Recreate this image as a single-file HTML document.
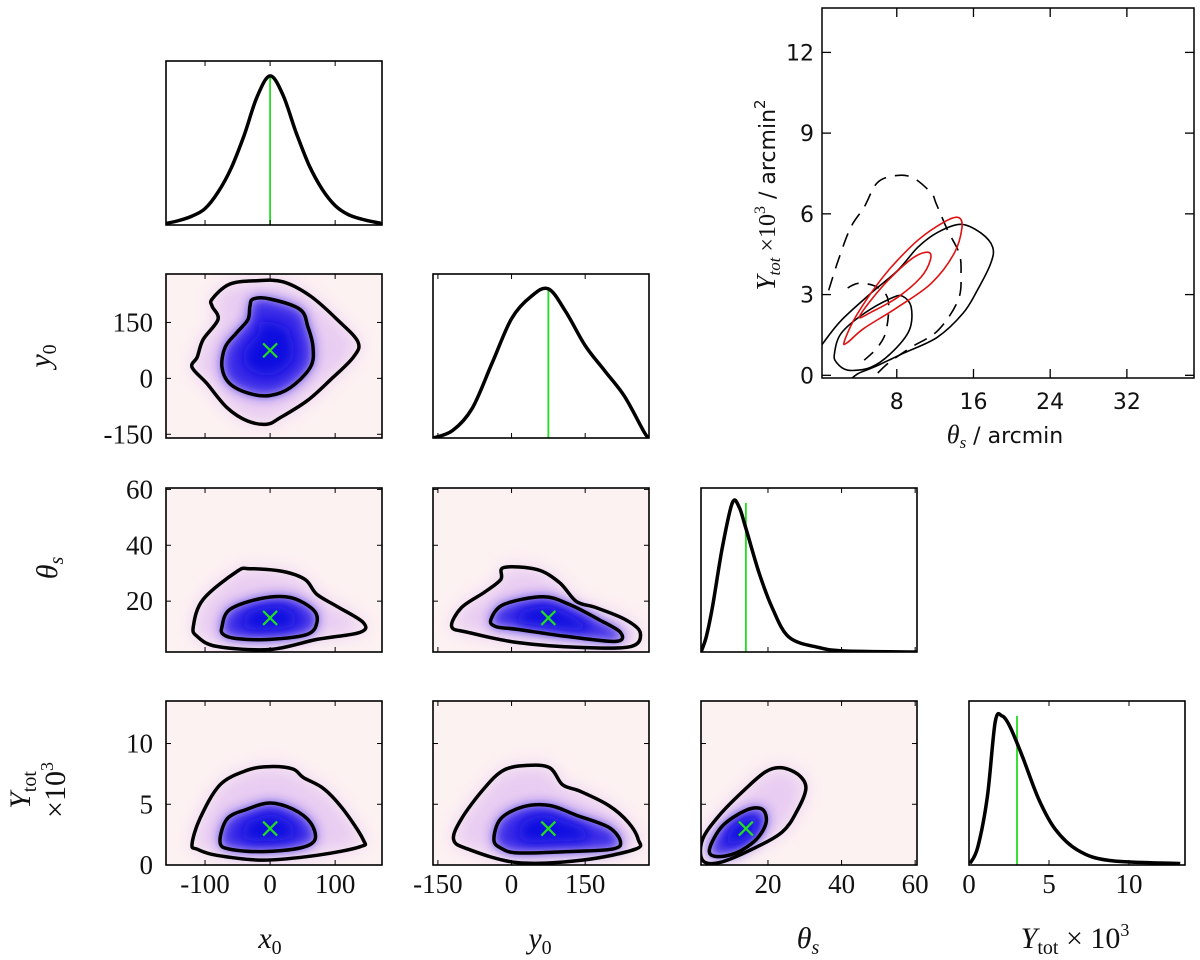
<!DOCTYPE html>
<html><head><meta charset="utf-8"><style>
html,body{margin:0;padding:0;background:#fff;}
svg{display:block;}
.tk{font-family:"Liberation Serif",serif;font-size:27px;fill:#111;}
.lab{font-family:"Liberation Serif",serif;font-size:30px;fill:#111;font-style:italic;}
.in{font-family:"DejaVu Sans",sans-serif;font-size:22px;fill:#111;}
</style></head><body>
<svg id="fig" width="1200" height="960" viewBox="0 0 1200 960" xmlns="http://www.w3.org/2000/svg">
<defs>
<filter id="blur8" x="-30%" y="-30%" width="160%" height="160%"><feGaussianBlur stdDeviation="9"/></filter>
<filter id="blur5" x="-30%" y="-30%" width="160%" height="160%"><feGaussianBlur stdDeviation="6"/></filter>
</defs>
</svg>
<script>
// ===== data =====
const truthX0 = 0, truthY0 = 75, truthTheta = 14, truthY = 3;
// 1D marginals
const x0Grid = [-160,-140,-120,-100,-80,-60,-40,-20,0,20,40,60,80,100,120,140,160,172];
const x0Pdf  = [0.01,0.03,0.06,0.11,0.22,0.38,0.6,0.86,1,0.87,0.62,0.4,0.24,0.13,0.07,0.04,0.02,0.01];
const y0Grid = [-160,-120,-80,-40,0,40,75,110,150,190,230,270,280];
const y0Pdf  = [0.0,0.05,0.2,0.5,0.8,0.95,1.0,0.85,0.62,0.45,0.28,0.04,0.0];
const thGrid = [1.8,3.2,4.9,7.6,10.3,12.2,14.1,17.6,21.1,25.7,33.8,41,60.3];
const thPdf  = [0,0.1,0.3,0.7,1.0,0.97,0.82,0.53,0.3,0.1,0.03,0.007,0];
const ytGrid = [0.06,0.55,1.15,1.64,2.06,2.55,3.33,4.36,5.39,6.79,8.79,13.2];
const ytPdf  = [0.01,0.12,0.46,0.96,1.0,0.93,0.73,0.44,0.24,0.1,0.03,0.01];
// 2D contours [x,y] in data units
const cXY_out = [[-89,213],[-62,253],[-20,262],[20,259],[62,221],[103,158],[135,98],[128,57],[92,-5],[57,-60],[15,-106],[-5,-123],[-35,-114],[-66,-79],[-97,-14],[-120,30],[-112,57],[-103,104],[-80,158],[-89,193]];
const cXY_in  = [[-26,213],[0,213],[46,185],[58,139],[66,84],[62,30],[31,-25],[0,-46],[-31,-41],[-62,-14],[-74,30],[-69,84],[-51,123],[-34,158],[-31,193]];
const cXT_out = [[-118,10.9],[-103,20.6],[-51,30.6],[-31,31.6],[20,30.6],[54,27.7],[72,22.4],[103,18.1],[143,12.4],[138,8.8],[72,6.3],[0,2.7],[-82,3.8],[-112,7.4]];
const cXT_in  = [[-74,10.9],[-62,17],[-15,20.9],[31,21.3],[66,17],[72,12.4],[57,8.1],[0,6.3],[-51,6.6],[-72,8.1]];
const cYT_out = [[-122,10.9],[-102,17.7],[-56,23.1],[-22,27.7],[-16,32],[52,31.3],[98,26.6],[132,19.9],[172,17.7],[232,13.4],[262,8.8],[244,3.8],[144,3.4],[12,5.2],[-88,8.8]];
const cYT_in  = [[-42,13.4],[-16,18.8],[64,21.6],[118,18.8],[178,13.4],[222,8.8],[212,5.6],[112,7.4],[12,9.9],[-32,10.9]];
const cXY2_out = [[-120,1.7],[-108,3.8],[-77,6.6],[-35,7.8],[0,8.1],[35,7.9],[51,7.2],[82,6.3],[112,4.6],[143,2.1],[138,1.5],[72,0.8],[-11,0.4],[-82,0.8],[-112,1.3]];
const cXY2_in  = [[-77,1.9],[-66,3.8],[-35,4.6],[0,5.1],[35,4.6],[62,3.5],[69,2.1],[46,1.4],[-11,1.1],[-62,1.3]];
const cYY_out = [[-118,2.1],[-102,3.8],[-56,6.3],[-16,7.8],[32,8.2],[78,8.0],[104,6.6],[138,6.1],[198,4.9],[238,3.5],[258,2.1],[252,1.3],[144,0.4],[12,0.2],[-88,1.3]];
const cYY_in  = [[-36,2.1],[-22,3.8],[24,4.8],[78,4.9],[132,4.1],[198,3.1],[222,1.9],[204,1.3],[112,1.1],[12,1.0],[-22,1.4]];
const cTY_out = [[2.2,2.1],[6.8,4.1],[14,6.3],[19.5,7.7],[23.8,8.0],[28.4,7.4],[30.3,6.3],[27.8,4.4],[23.8,2.7],[15.7,1.3],[6.8,0.2],[2.2,0.4]];
const cTY_in  = [[4.1,1.3],[7.6,3.2],[14,4.5],[18.4,4.6],[19.5,3.5],[16.8,2.1],[11.4,1.0],[5.9,0.7]];
// inset contours (theta, Ytot)
const insRedOut = [[2.5,1.23],[3.5,2.04],[5.3,3.05],[7.4,4.01],[10.2,5.02],[12.9,5.69],[14.4,5.87],[14.8,5.5],[14,4.54],[11.6,3.42],[8.1,2.53],[4.6,1.75],[2.9,1.23]];
const insRedIn  = [[4.1,2.16],[5.3,2.79],[7.4,3.64],[9.8,4.39],[11.3,4.57],[11.5,4.28],[10.5,3.64],[8.1,2.9],[5.3,2.34]];
const insBlkOut = [[-1,0.5],[0.3,1.19],[2.2,2.04],[5.3,3.05],[8.1,3.9],[10.2,4.76],[12.3,5.32],[14.7,5.61],[16.8,5.28],[18,4.76],[17.8,4.16],[16.4,3.16],[14.9,2.3],[12.2,1.41],[8.7,0.82],[5.6,0.3],[4,0.07],[3,-0.2]];
const insBlkIn  = [[1.5,0.82],[2.2,1.56],[4.6,2.3],[7.4,2.86],[8.6,2.94],[9.5,2.53],[9.3,1.67],[7.4,0.82],[5.3,0.3],[2.9,0.19],[1.7,0.48]];
const insDashOut = [[0.9,3.16],[1.9,4.28],[3.2,5.5],[4.6,6.25],[6,7.17],[8.1,7.43],[9.8,7.32],[11.6,6.77],[12.1,6.39],[13.3,5.39],[14.5,4.54],[14.7,3.79],[14.4,2.79],[12.3,1.67],[9.5,1.04],[7.1,0.45],[5.6,-0.07]];
const insDashIn = [[4.6,0.56],[6,1.04],[6.9,1.67],[7.1,2.79],[6,3.27],[4,3.42],[2.5,3.16]];
// ticks
const x0Ticks = [-100,0,100];
const y0Ticks = [-150,0,150];
const thTicks = [20,40,60];
const ytTicks = [0,5,10];
const insXTicks = [8,16,24,32];
const insYTicks = [0,3,6,9,12];

// ===== layout =====
const NS="http://www.w3.org/2000/svg";
const svg=document.getElementById('fig');
const colX=[166,433,701,969], rowY=[61,274,488,701], PW=216, PH=164;
const R={x0:[-160,172], y0:[-160,280], th:[1.8,60.5], yt:[0,13.5], pdf:[0,1.1]};
function mk(tag,attrs,parent){const e=document.createElementNS(NS,tag);for(const k in attrs)e.setAttribute(k,attrs[k]);(parent||svg).appendChild(e);return e;}
function sx(c,r){return v=>colX[c]+(v-r[0])/(r[1]-r[0])*PW;}
function sy(rw,r){return v=>rowY[rw]+PH-(v-r[0])/(r[1]-r[0])*PH;}
function smooth(pts,closed){
  const n=pts.length;let d='M'+pts[0][0].toFixed(1)+','+pts[0][1].toFixed(1);
  const N=closed?n:n-1;
  for(let i=0;i<N;i++){
    const p0=pts[(i-1+n)%n],p1=pts[i],p2=pts[(i+1)%n],p3=pts[(i+2)%n];
    const a=closed||i>0?p0:p1, b=closed||i+2<n?p3:p2;
    const c1=[p1[0]+(p2[0]-a[0])/6,p1[1]+(p2[1]-a[1])/6];
    const c2=[p2[0]-(b[0]-p1[0])/6,p2[1]-(b[1]-p1[1])/6];
    d+=`C${c1[0].toFixed(1)},${c1[1].toFixed(1)} ${c2[0].toFixed(1)},${c2[1].toFixed(1)} ${p2[0].toFixed(1)},${p2[1].toFixed(1)}`;
  }
  return d+(closed?'Z':'');
}
let clipId=0;
function frame(c,rw,bg){
  const g=mk('g',{});
  
  
  const id='clip'+(clipId++);
  const cp=mk('clipPath',{id:id},svg.querySelector('defs'));
  mk('rect',{x:colX[c],y:rowY[rw],width:PW,height:PH},cp);
  if(bg) mk('rect',{x:colX[c],y:rowY[rw],width:PW,height:PH,fill:'#fdf2f2'},g);
  const inner=mk('g',{'clip-path':'url(#'+id+')'},g);
  return {g,inner};
}
function border(g,c,rw){
  const b=mk('rect',{x:colX[c],y:rowY[rw],width:PW,height:PH,fill:'none',stroke:'#000','stroke-width':1.6},g);
  
  
}
function xticks(g,c,rw,r,ticks){const X=sx(c,r);ticks.forEach(t=>{const x=X(t);mk('line',{x1:x,x2:x,y1:rowY[rw]+PH,y2:rowY[rw]+PH-5,stroke:'#000','stroke-width':1},g);mk('line',{x1:x,x2:x,y1:rowY[rw],y2:rowY[rw]+5,stroke:'#000','stroke-width':1},g);});}
function yticks(g,c,rw,r,ticks){const Y=sy(rw,r);ticks.forEach(t=>{const y=Y(t);mk('line',{x1:colX[c],x2:colX[c]+5,y1:y,y2:y,stroke:'#000','stroke-width':1},g);mk('line',{x1:colX[c]+PW,x2:colX[c]+PW-5,y1:y,y2:y,stroke:'#000','stroke-width':1},g);});}

function marginal(c,rw,r,grid,pdf,truth,ticks){
  const f=frame(c,rw,false);const X=sx(c,r),Y=sy(rw,R.pdf);
  const pts=grid.map((v,i)=>[X(v),Y(pdf[i])]);
  const tv=X(truth);
  const l=mk('line',{x1:tv,x2:tv,y1:Y(Math.max(...pdf)),y2:rowY[rw]+PH,stroke:'#22dd22','stroke-width':1.8},f.inner);
  
  
  const p=mk('path',{d:smooth(pts,false),fill:'none',stroke:'#000','stroke-width':3.5,'stroke-linejoin':'round'},f.inner);
  
  
  xticks(f.g,c,rw,r,ticks);
  border(f.g,c,rw);
}
function joint(c,rw,rx,ry,outer,inner,tx,ty,xt,yt){
  const f=frame(c,rw,true);const X=sx(c,rx),Y=sy(rw,ry);
  const po=outer.map(p=>[X(p[0]),Y(p[1])]), pi=inner.map(p=>[X(p[0]),Y(p[1])]);
  mk('path',{d:smooth(po,true),fill:'#e6c8f2',filter:'url(#blur8)',opacity:0.9},f.inner);
  mk('path',{d:smooth(pi,true),fill:'#3a2ae8',filter:'url(#blur5)'},f.inner);
  const cx=X(tx),cy=Y(ty);
  const sc=pi.map(p=>[cx+(p[0]-cx)*0.55,cy+(p[1]-cy)*0.55]);
  mk('path',{d:smooth(sc,true),fill:'#1010e0',filter:'url(#blur5)'},f.inner);
  const a=mk('path',{d:smooth(po,true),fill:'none',stroke:'#000','stroke-width':3.5},f.inner);
  
  
  const b=mk('path',{d:smooth(pi,true),fill:'none',stroke:'#000','stroke-width':3.5},f.inner);
  
  
  const m=mk('path',{d:`M${cx-7},${cy-7}L${cx+7},${cy+7}M${cx-7},${cy+7}L${cx+7},${cy-7}`,stroke:'#22dd22','stroke-width':2.2},f.inner);
  
  
  xticks(f.g,c,rw,rx,xt);yticks(f.g,c,rw,ry,yt);
  border(f.g,c,rw);
}
marginal(0,0,R.x0,x0Grid,x0Pdf,truthX0,x0Ticks);
marginal(1,1,R.y0,y0Grid,y0Pdf,truthY0,y0Ticks);
marginal(2,2,R.th,thGrid,thPdf,truthTheta,thTicks);
marginal(3,3,R.yt,ytGrid,ytPdf,truthY,ytTicks);
joint(0,1,R.x0,R.y0,cXY_out,cXY_in,truthX0,truthY0,x0Ticks,y0Ticks);
joint(0,2,R.x0,R.th,cXT_out,cXT_in,truthX0,truthTheta,x0Ticks,thTicks);
joint(1,2,R.y0,R.th,cYT_out,cYT_in,truthY0,truthTheta,y0Ticks,thTicks);
joint(0,3,R.x0,R.yt,cXY2_out,cXY2_in,truthX0,truthY,x0Ticks,ytTicks);
joint(1,3,R.y0,R.yt,cYY_out,cYY_in,truthY0,truthY,y0Ticks,ytTicks);
joint(2,3,R.th,R.yt,cTY_out,cTY_in,truthTheta,truthY,thTicks,ytTicks);

// tick labels
function text(x,y,s,cls,anchor,name){const t=mk('text',{x:x,y:y,class:cls,'text-anchor':anchor||'middle'});t.textContent=s;return t;}
[[0,R.x0,x0Ticks],[1,R.y0,y0Ticks],[2,R.th,thTicks],[3,R.yt,ytTicks]].forEach(([c,r,tk])=>{const X=sx(c,r);tk.forEach(t=>text(X(t),893,String(t),'tk','middle','x-tick-label'));});
[[1,R.y0,y0Ticks],[2,R.th,thTicks],[3,R.yt,ytTicks]].forEach(([rw,r,tk])=>{const Y=sy(rw,r);tk.forEach(t=>text(153,Y(t)+9,String(t),'tk','end','y-tick-label'));});

// axis labels
const xl=[[270,'x','0'],[540,'y','0'],[808,'θ','s']];
xl.forEach(([x,a,s])=>{const t=text(x,948,'','lab','middle','x-axis-label');const t1=mk('tspan',{},t);t1.textContent=a;const t2=mk('tspan',{dy:6,'font-size':20,'font-style':'normal'},t);if(a==='θ')t2.setAttribute('font-style','italic');t2.textContent=s;});
{const t=text(1075,948,'','lab','middle','x-axis-label');const a=mk('tspan',{},t);a.textContent='Y';const b=mk('tspan',{dy:6,'font-size':20,'font-style':'normal'},t);b.textContent='tot';const c=mk('tspan',{dy:-6,'font-style':'normal'},t);c.textContent=' × 10';const d=mk('tspan',{dy:-12,'font-size':18,'font-style':'normal'},t);d.textContent='3';}
function ylab(x,y,parts,name){const t=mk('text',{x:0,y:0,class:'lab','text-anchor':'middle',transform:`translate(${x},${y}) rotate(-90)`});parts.forEach(p=>{const s=mk('tspan',p[1],t);s.textContent=p[0];});return t;}
ylab(50,356,[['y',{}],['0',{dy:6,'font-size':20,'font-style':'normal'}]],'y-axis-label-y0');
ylab(57,568,[['θ',{}],['s',{dy:6,'font-size':20}]],'y-axis-label-theta');
ylab(30,790,[['Y',{}],['tot',{dy:6,'font-size':20,'font-style':'normal'}]],'y-axis-label-ytot');
ylab(65,790,[['×10',{'font-style':'normal'}],['3',{dy:-12,'font-size':18,'font-style':'normal'}]],'y-axis-label-ytot-scale');

// ===== inset =====
const IB={x:822,y:8,w:372,h:370}, IX=[0.2,39], IY=[-0.1,13.65];
const ix=v=>IB.x+(v-IX[0])/(IX[1]-IX[0])*IB.w, iy=v=>IB.y+IB.h-(v-IY[0])/(IY[1]-IY[0])*IB.h;
const ig=mk('g',{});
const icp=mk('clipPath',{id:'iclip'},svg.querySelector('defs'));mk('rect',{x:IB.x,y:IB.y,width:IB.w,height:IB.h},icp);
const ii=mk('g',{'clip-path':'url(#iclip)'},ig);
function ic(pts,closed,color,dash,name){const p=mk('path',{d:smooth(pts.map(q=>[ix(q[0]),iy(q[1])]),closed),fill:'none',stroke:color,'stroke-width':1.6},ii);if(dash)p.setAttribute('stroke-dasharray',dash);}
ic(insDashOut,false,'#000','14,9','inset-dashed-outer');
ic(insDashIn,false,'#000','12,9','inset-dashed-inner');
ic(insBlkOut,false,'#000',null,'inset-solid-outer');
ic(insBlkIn,true,'#000',null,'inset-solid-inner');
ic(insRedOut,true,'#e01010',null,'inset-red-outer');
ic(insRedIn,true,'#e01010',null,'inset-red-inner');
insXTicks.forEach(t=>{const x=ix(t);mk('line',{x1:x,x2:x,y1:IB.y+IB.h,y2:IB.y+IB.h-9,stroke:'#000','stroke-width':1.3},ig);mk('line',{x1:x,x2:x,y1:IB.y,y2:IB.y+9,stroke:'#000','stroke-width':1.3},ig);text(x,409,String(t),'in','middle','inset-x-tick-label');});
insYTicks.forEach(t=>{const y=iy(t);mk('line',{x1:IB.x,x2:IB.x+9,y1:y,y2:y,stroke:'#000','stroke-width':1.3},ig);mk('line',{x1:IB.x+IB.w,x2:IB.x+IB.w-9,y1:y,y2:y,stroke:'#000','stroke-width':1.3},ig);text(IB.x-8,y+8,String(t),'in','end','inset-y-tick-label');});
mk('rect',{x:IB.x,y:IB.y,width:IB.w,height:IB.h,fill:'none',stroke:'#000','stroke-width':1.5},ig);
{const t=text(1005,443,'','in','middle','inset-x-axis-label');const a=mk('tspan',{'font-family':'Liberation Serif','font-style':'italic','font-size':26},t);a.textContent='θ';const b=mk('tspan',{dy:5,'font-size':17,'font-family':'Liberation Serif','font-style':'italic'},t);b.textContent='s';const c=mk('tspan',{dy:-5},t);c.textContent=' / arcmin';}
{const t=mk('text',{x:0,y:0,class:'in','text-anchor':'middle',transform:'translate(775,195) rotate(-90)'},ig);
const a=mk('tspan',{'font-family':'Liberation Serif','font-style':'italic','font-size':27},t);a.textContent='Y';const b=mk('tspan',{dy:5,'font-size':17,'font-family':'Liberation Serif','font-style':'italic'},t);b.textContent='tot';const c=mk('tspan',{dy:-5,'font-family':'Liberation Serif','font-size':24},t);c.textContent=' ×10';const d=mk('tspan',{dy:-10,'font-size':16,'font-family':'Liberation Serif'},t);d.textContent='3';const e=mk('tspan',{dy:10},t);e.textContent='  / arcmin';const f=mk('tspan',{dy:-10,'font-size':15},t);f.textContent='2';}
</script>
</body></html>
